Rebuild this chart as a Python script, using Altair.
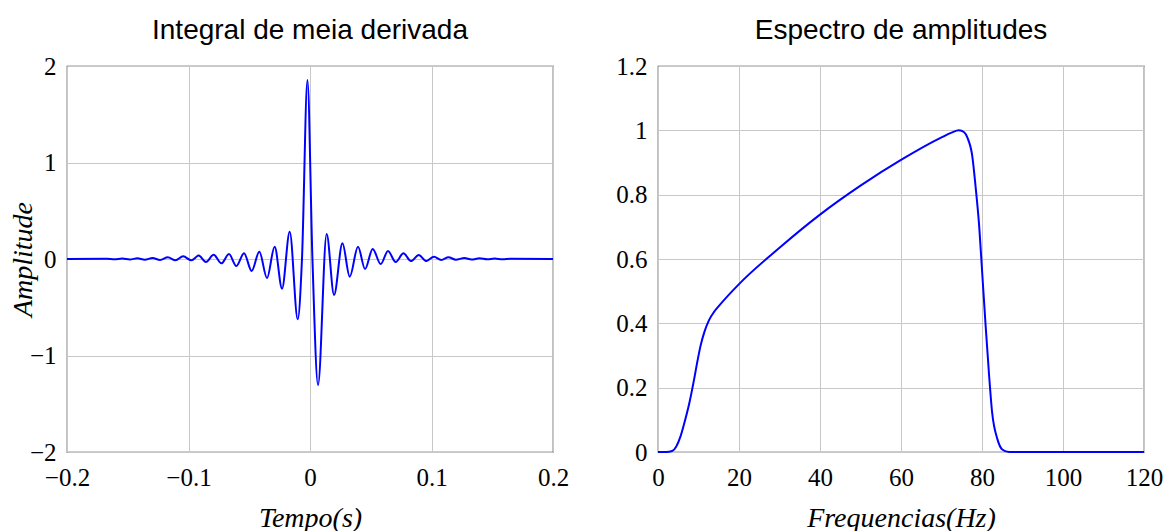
import altair as alt
import pandas as pd

# ---- Left panel: "Integral de meia derivada" (time in s, amplitude) ----
tempo = [-0.2, -0.1672, -0.1609, -0.1546, -0.1483, -0.1420, -0.1360, -0.1296,
         -0.1234, -0.1170, -0.1107, -0.1044, -0.0976, -0.0916, -0.0856, -0.0793,
         -0.0729, -0.0667, -0.0606, -0.0543, -0.0480, -0.0417, -0.0354, -0.0291,
         -0.0230, -0.0167, -0.0101, -0.0066, -0.0021, 0.0020, 0.0066, 0.0137,
         0.0198, 0.0267, 0.0327, 0.0395, 0.0453, 0.0516, 0.0582, 0.0642,
         0.0705, 0.0769, 0.0831, 0.0895, 0.0958, 0.1020, 0.1080, 0.1140,
         0.1200, 0.1270, 0.1330, 0.1395, 0.1458, 0.1520, 0.1585, 0.1650, 0.2]
amplitude = [0.0, 0.002, -0.002, 0.004, -0.004, 0.007, -0.007, 0.010,
             -0.010, 0.017, -0.014, 0.028, -0.014, 0.035, -0.031, 0.045,
             -0.045, 0.052, -0.073, 0.059, -0.124, 0.076, -0.197, 0.128,
             -0.307, 0.283, -0.625, 0.0, 1.855, 0.0, -1.306, 0.259,
             -0.373, 0.162, -0.183, 0.128, -0.104, 0.104, -0.052, 0.083,
             -0.031, 0.059, -0.021, 0.041, -0.021, 0.024, -0.010, 0.017,
             -0.007, 0.010, -0.005, 0.007, -0.003, 0.004, -0.002, 0.002, 0.0]

# ---- Right panel: "Espectro de amplitudes" (Hz, normalised amplitude) ----
frequencia = [0, 2, 3.5, 5.6, 6.5, 7.7, 8.9, 9.7, 10.5, 11.5, 12.6, 13.8,
              15.1, 20.0, 30.0, 40.0, 50.0, 60.0, 70.0, 72.5, 74.3, 75.6,
              76.4, 77.6, 78.4, 79.3, 80.1, 80.9, 81.7, 82.5, 83.8, 85.0,
              86.7, 100, 120]
espectro = [0, 0.0, 0.003, 0.05, 0.09, 0.15, 0.225, 0.28, 0.33, 0.375, 0.41,
            0.435, 0.455, 0.522, 0.635, 0.738, 0.828, 0.908, 0.978, 0.993,
            1.0, 0.994, 0.977, 0.92, 0.827, 0.703, 0.547, 0.392, 0.247, 0.123,
            0.04, 0.008, 0.0, 0.0, 0.0]

x_ticks_left = [-0.2, -0.1, 0, 0.1, 0.2]
y_ticks_left = [-2, -1, 0, 1, 2]
x_ticks_right = [0, 20, 40, 60, 80, 100, 120]
y_ticks_right = [0, 0.2, 0.4, 0.6, 0.8, 1.0, 1.2]

SERIF = "Liberation Serif"
SANS = "Liberation Sans"
BLUE = "#0000ff"
W, H = 486, 386

left_df = pd.DataFrame({"t": tempo, "a": amplitude})
right_df = pd.DataFrame({"f": frequencia, "s": espectro})

def ttl(text):
    return alt.TitleParams(text, font=SANS, fontSize=28, fontWeight="normal",
                           color="black", anchor="middle", offset=9)

left = alt.Chart(left_df, title=ttl("Integral de meia derivada")).mark_line(
    color=BLUE, strokeWidth=2, interpolate="monotone"
).encode(
    x=alt.X("t:Q", scale=alt.Scale(domain=[-0.2, 0.2], nice=False, zero=False),
            axis=alt.Axis(values=x_ticks_left, format=".1~f", title="Tempo(s)")),
    y=alt.Y("a:Q", scale=alt.Scale(domain=[-2, 2], nice=False),
            axis=alt.Axis(values=y_ticks_left, format="d", title="Amplitude",
                          titleX=-36, titleY=H / 2, titleAngle=270,
                          titleBaseline="alphabetic", titleAlign="center")),
).properties(width=W, height=H)

right = alt.Chart(right_df, title=ttl("Espectro de amplitudes")).mark_line(
    color=BLUE, strokeWidth=2, interpolate="monotone"
).encode(
    x=alt.X("f:Q", scale=alt.Scale(domain=[0, 120], nice=False),
            axis=alt.Axis(values=x_ticks_right, format="d", title="Frequencias(Hz)")),
    y=alt.Y("s:Q", scale=alt.Scale(domain=[0, 1.2], nice=False),
            axis=alt.Axis(values=y_ticks_right, format=".1~f", title=None)),
).properties(width=W, height=H)

chart = alt.hconcat(left, right, spacing=45).properties(
    padding={"left": 0, "top": 8, "right": 0, "bottom": 0}
).configure_axis(
    labelFont=SERIF, labelFontSize=25, labelColor="black",
    titleFont=SERIF, titleFontSize=28, titleFontStyle="italic",
    titleFontWeight="normal", titleColor="black",
    labelFlush=False, labelOverlap=False,
    grid=True, gridColor="#c8c8c8", gridWidth=1,
    ticks=False, domain=False,
).configure_axisX(labelPadding=13, titlePadding=14).configure_axisY(
    labelPadding=11
).configure_view(
    stroke="#333333", strokeWidth=1.2
)

chart.save("out.html", embed_options={"renderer": "svg", "actions": False})
